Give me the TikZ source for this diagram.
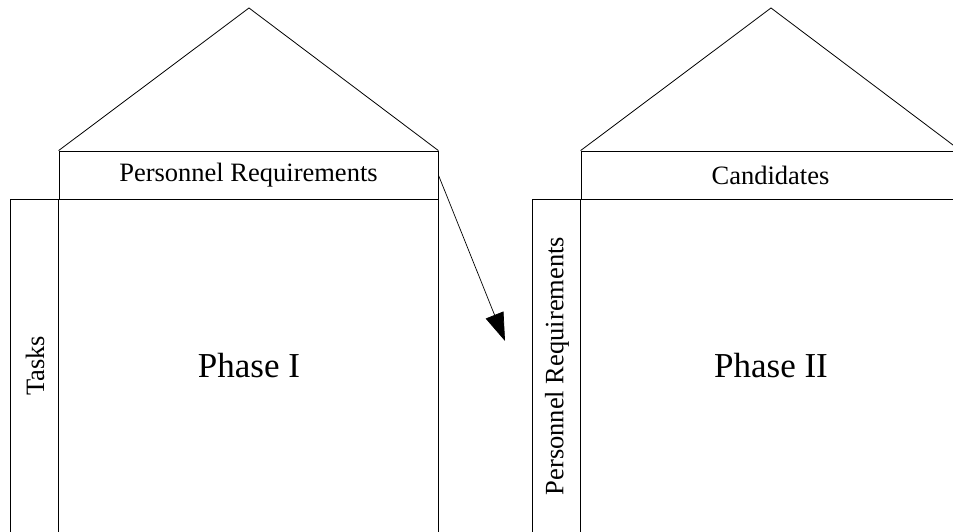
\documentclass[tikz,border=0pt]{standalone}
\usepackage{fontspec}
\setmainfont{Liberation Serif}
\usetikzlibrary{arrows.meta}
\begin{document}
\begin{tikzpicture}[x=1pt,y=1pt,
  edge/.style={draw=black,line width=0.8pt},
  hdr/.style={edge,rectangle,inner sep=0pt,minimum height=48pt,
    font=\fontsize{26.5}{30}\selectfont},
  big/.style={font=\fontsize{35}{40}\selectfont,inner sep=0pt},
  side/.style={font=\fontsize{26.5}{30}\selectfont,inner sep=0pt,rotate=90}]
\useasboundingbox (0,0) rectangle (953,532);
\clip (0,0) rectangle (953,532);

% ---- Phase I house ----
\node[hdr,minimum width=379pt] (req1) at (248.5,357) {Personnel Requirements};
\coordinate (apex1) at (249,524);
\draw[edge] (req1.north west) -- (apex1) -- (req1.north east);
\draw[edge] (req1.south west) -- ++(-48,0) coordinate (corner1) -- ++(0,-340);
\draw[edge] (req1.south west) -- ++(0,-340);
\draw[edge] (req1.south east) -- ++(0,-340);
\node[big] (phase1) at (249,166) {Phase I};
\node[side] (tasks) at (35,166) {Tasks};

% ---- Phase II house ----
\node[hdr,minimum width=379pt] (cand) at (770.5,357) {Candidates};
\coordinate (apex2) at (771,524);
\draw[edge] (cand.north west) -- (apex2) -- (cand.north east);
\draw[edge] (cand.south west) -- ++(-48,0) coordinate (corner2) -- ++(0,-340);
\draw[edge] (cand.south west) -- ++(0,-340);
\draw[edge] (cand.south east) -- ++(0,-340);
\node[big] (phase2) at (771,166) {Phase II};
\node[side] (req2) at (557,166) {Personnel Requirements};

% ---- hand-over arrow ----
\coordinate (target) at (505,191);
\draw[edge,line width=0.7pt,-{Triangle[length=28pt,width=19pt]}]
  ([yshift=0pt]req1.east) -- (target);
\end{tikzpicture}
\end{document}
